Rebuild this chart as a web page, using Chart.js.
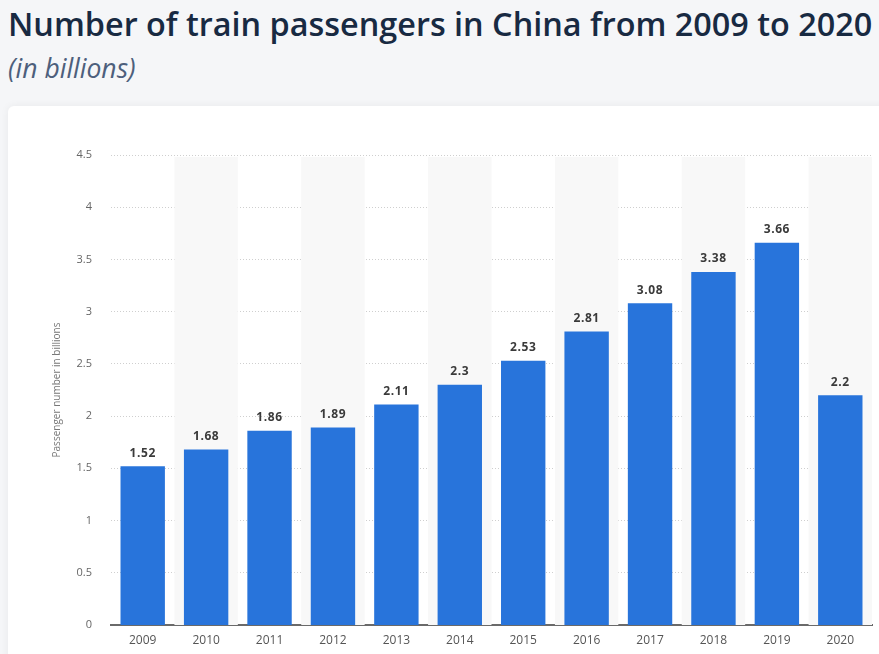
<!DOCTYPE html>
<html>
<head>
<meta charset="utf-8">
<script src="https://cdn.jsdelivr.net/npm/chart.js@4"></script>
<style>
  html, body { margin: 0; padding: 0; }
  body { width: 879px; height: 654px; overflow: hidden; background: #f5f6f8; font-family: "Open Sans", sans-serif; position: relative; }
  h1 { position: absolute; left: 8px; top: 1px; margin: 0; font-size: 32.4px; font-weight: 600; color: #182a42; white-space: nowrap; }
  .sub { position: absolute; left: 8px; top: 50px; margin: 0; font-size: 26.5px; font-style: italic; color: #4d5f7c; }
  .card { position: absolute; left: 8px; top: 106px; width: 920px; height: 600px; background: #fff; border-radius: 6px; box-shadow: 0 0 8px rgba(0,0,0,0.06); }
  #wrap { position: absolute; left: 0; top: 0; width: 879px; height: 654px; }
</style>
</head>
<body>
<h1>Number of train passengers in China from 2009 to 2020</h1>
<div class="sub">(in billions)</div>
<div class="card"></div>
<div id="wrap"><canvas id="chart"></canvas></div>
<script>
// ---------- Data ----------
const years = ['2009', '2010', '2011', '2012', '2013', '2014', '2015', '2016', '2017', '2018', '2019', '2020'];
const passengers = [1.52, 1.68, 1.86, 1.89, 2.11, 2.3, 2.53, 2.81, 3.08, 3.38, 3.66, 2.2];
const yTicks = [0, 0.5, 1, 1.5, 2, 2.5, 3, 3.5, 4, 4.5];

// ---------- Plugins ----------
// light bands behind every second column
const columnBands = {
    id: 'columnBands',
    beforeDatasetsDraw(chart) {
        const { ctx, chartArea, scales: { x } } = chart;
        const step = x.getPixelForValue(1) - x.getPixelForValue(0);
        ctx.save();
        ctx.fillStyle = '#f8f8f8';
        years.forEach((y, i) => {
            if (i % 2 === 1) {
                const cx = x.getPixelForValue(i);
                ctx.fillRect(cx - step / 2, chartArea.top + 2, step, chartArea.bottom - chartArea.top - 2);
            }
        });
        ctx.restore();
    }
};

// value labels above bars
const valueLabels = {
    id: 'valueLabels',
    afterDatasetsDraw(chart) {
        const { ctx } = chart;
        const meta = chart.getDatasetMeta(0);
        ctx.save();
        ctx.font = 'bold 12px "Open Sans", sans-serif';
        ctx.fillStyle = '#3a3a3a';
        ctx.textAlign = 'center';
        ctx.textBaseline = 'middle';
        if ('letterSpacing' in ctx) ctx.letterSpacing = '0.6px';
        meta.data.forEach((bar, i) => {
            ctx.fillText(String(passengers[i]), bar.x, bar.y - 13);
        });
        ctx.restore();
    }
};

// ---------- Chart ----------
new Chart(document.getElementById('chart'), {
    type: 'bar',
    data: {
        labels: years,
        datasets: [{
            data: passengers,
            backgroundColor: '#2874db',
            barPercentage: 0.7,
            categoryPercentage: 1
        }]
    },
    options: {
        responsive: true,
        maintainAspectRatio: false,
        animation: false,
        layout: { padding: { left: 47, top: 155, right: 7, bottom: 0 } },
        plugins: {
            legend: { display: false },
            tooltip: { enabled: false }
        },
        scales: {
            x: {
                afterFit: (s) => { s.height = 29; },
                grid: { display: false, drawTicks: false },
                border: { display: true, color: '#6a6a6a', width: 2 },
                ticks: { color: '#555', padding: 8, font: { family: 'Open Sans', size: 12 } }
            },
            y: {
                min: 0,
                max: 4.5,
                afterFit: (s) => { s.width = 64; },
                afterBuildTicks: (s) => { s.ticks = yTicks.map(v => ({ value: v })); },
                title: { display: true, text: 'Passenger number in billions', color: '#777', font: { family: 'Open Sans', size: 10 }, padding: 4 },
                border: { display: false, dash: [1, 2] },
                grid: { color: '#cfcfcf', drawTicks: false, lineWidth: (c) => c.tick && c.tick.value === 0 ? 0 : 1 },
                ticks: { color: '#666', padding: 19, font: { family: 'Open Sans', size: 11 }, callback: (v) => String(v) }
            }
        }
    },
    plugins: [columnBands, valueLabels]
});
</script>
</body>
</html>
